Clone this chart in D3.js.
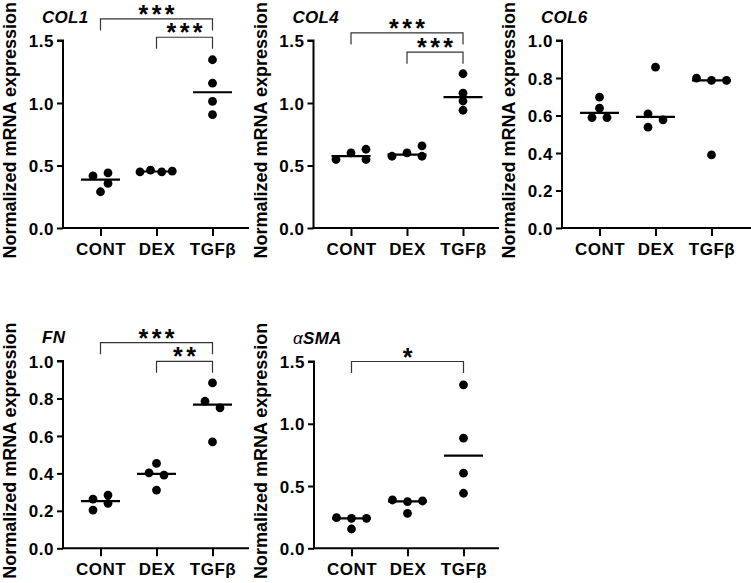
<!DOCTYPE html>
<html><head><meta charset="utf-8">
<script src="https://cdn.jsdelivr.net/npm/d3@7"></script>
<style>
body{margin:0;background:#fff;}
text{font-family:"Liberation Sans",Arial,sans-serif;fill:#000;}
</style></head>
<body><svg id="c" width="751" height="583"></svg>
<script>
// ---- data ----
const categories = ["CONT", "DEX", "TGFβ"];
const yLabel = "Normalized mRNA expression";

const col1Values = [[0.417, 0.441, 0.357, 0.290], [0.449, 0.463, 0.449, 0.455], [1.346, 1.159, 1.013, 0.907]];
const col1Jitter = [[-1, 1, 1, 0], [-2.2, -0.8, 0.7, 2.1], [0, 0, 0, 0]];
const col1Ticks = [0, 0.5, 1.0, 1.5];
const col1Comparisons = [["CONT", "TGFβ", "***", 1.673], ["DEX", "TGFβ", "***", 1.526]];

const col4Values = [[0.548, 0.601, 0.630, 0.548], [0.574, 0.601, 0.657, 0.574], [1.234, 1.079, 1.016, 0.942]];
const col4Jitter = [[-2, 0, 2, 2], [-2, 0, 2, 2], [0, 0, 0, 0]];
const col4Ticks = [0, 0.5, 1.0, 1.5];
const col4Comparisons = [["CONT", "TGFβ", "***", 1.561], ["DEX", "TGFβ", "***", 1.407]];

const col6Values = [[0.698, 0.639, 0.589, 0.589], [0.858, 0.609, 0.577, 0.538], [0.799, 0.787, 0.787, 0.390]];
const col6Jitter = [[0, 0, -1, 1], [0, -1, 1, -1], [-2, 0, 2, 0]];
const col6Ticks = [0, 0.2, 0.4, 0.6, 0.8, 1.0];
const col6Comparisons = [];

const fnValues = [[0.263, 0.284, 0.240, 0.204], [0.453, 0.403, 0.391, 0.311], [0.883, 0.785, 0.750, 0.568]];
const fnJitter = [[-1, 1, 1, -1], [0, -1, 1, 0], [0, -1, 1, 0]];
const fnTicks = [0, 0.2, 0.4, 0.6, 0.8, 1.0];
const fnComparisons = [["CONT", "TGFβ", "***", 1.098], ["DEX", "TGFβ", "**", 0.998]];

const smaValues = [[0.246, 0.241, 0.241, 0.155], [0.388, 0.375, 0.380, 0.281], [1.313, 0.884, 0.603, 0.442]];
const smaJitter = [[-2, 0, 2, 0], [-2, 0, 2, 0], [0, 0, 0, 0]];
const smaTicks = [0, 0.5, 1.0, 1.5];
const smaComparisons = [["CONT", "TGFβ", "*", 1.5]];

// ---- layout ----
const panels = [
  {title: [["COL1", "bold"]], values: col1Values, jitter: col1Jitter, ticks: col1Ticks, comps: col1Comparisons, left: 63, right: 249, top: 40.5, bottom: 228},
  {title: [["COL4", "bold"]], values: col4Values, jitter: col4Jitter, ticks: col4Ticks, comps: col4Comparisons, left: 313.5, right: 499, top: 40.5, bottom: 228},
  {title: [["COL6", "bold"]], values: col6Values, jitter: col6Jitter, ticks: col6Ticks, comps: col6Comparisons, left: 562, right: 751, top: 40.5, bottom: 228},
  {title: [["FN", "bold"]], values: fnValues, jitter: fnJitter, ticks: fnTicks, comps: fnComparisons, left: 63, right: 249, top: 361, bottom: 548.3},
  {title: [["α", "normal"], ["SMA", "bold"]], values: smaValues, jitter: smaJitter, ticks: smaTicks, comps: smaComparisons, left: 314, right: 499, top: 361.5, bottom: 548.3}
];
const jitterUnit = 7.5;

const svg = d3.select("#c");

panels.forEach(p => {
  const g = svg.append("g");
  const y = d3.scaleLinear().domain([0, d3.max(p.ticks)]).range([p.bottom, p.top]);
  const x = d3.scalePoint().domain(categories).range([p.left + 37.5, p.left + 149.5]);

  // y axis
  const ya = g.append("g").attr("transform", `translate(${p.left},0)`)
    .call(d3.axisLeft(y).tickValues(p.ticks).tickFormat(d3.format(".1f")).tickSize(6).tickPadding(3));
  ya.select(".domain").attr("d", `M-6,${p.top}H0V${p.bottom}`).attr("stroke-width", 2).attr("stroke", "#000");
  ya.selectAll(".tick line").attr("stroke-width", 2).attr("stroke", "#000");
  ya.selectAll(".tick text").attr("font-size", 17).attr("font-weight", "bold").attr("letter-spacing", 0.5).attr("dy", "0.36em").attr("x", -9);

  // x axis
  const xa = g.append("g").attr("transform", `translate(0,${p.bottom})`)
    .call(d3.axisBottom(x).tickSize(8).tickPadding(8));
  xa.select(".domain").attr("d", `M${p.left - 1},0H${p.right}`).attr("stroke-width", 2).attr("stroke", "#000");
  xa.selectAll(".tick line").attr("stroke-width", 2).attr("stroke", "#000");
  xa.selectAll(".tick text").attr("font-size", 17).attr("font-weight", "bold").attr("letter-spacing", 0.5).attr("dy", "0.71em").attr("y", 15);

  // y label
  g.append("text")
    .attr("transform", `translate(${p.left - 47},${(p.top + p.bottom) / 2 - 4}) rotate(-90)`)
    .attr("text-anchor", "middle").attr("font-size", 18).attr("font-weight", "bold")
    .text(yLabel);

  // title
  const t = g.append("text").attr("x", p.left - 21).attr("y", p.top - 18)
    .attr("font-size", 17).attr("font-style", "italic").attr("letter-spacing", 0.3);
  p.title.forEach(([s, w]) => t.append("tspan").attr("font-weight", w).text(s));

  // points
  categories.forEach((c, i) => {
    const vals = p.values[i];
    g.selectAll(null).data(vals).enter().append("circle")
      .attr("cx", (d, j) => x(c) + p.jitter[i][j] * jitterUnit)
      .attr("cy", d => y(d)).attr("r", 4.4).attr("fill", "#000");
    const med = d3.median(vals);
    g.append("line").attr("x1", x(c) - 19.5).attr("x2", x(c) + 19.5)
      .attr("y1", y(med)).attr("y2", y(med)).attr("stroke", "#000").attr("stroke-width", 2.2);
  });

  // significance brackets
  p.comps.forEach(([a, b, lab, lvl]) => {
    const yy = y(lvl);
    g.append("path").attr("d", `M${x(a)},${yy + 11.5}V${yy}H${x(b)}V${yy + 11.5}`)
      .attr("fill", "none").attr("stroke", "#333").attr("stroke-width", 1.2);
    g.append("text").attr("x", (x(a) + x(b)) / 2 + 1.75).attr("y", yy + 4)
      .attr("text-anchor", "middle").attr("font-size", 25).attr("font-weight", "bold").attr("letter-spacing", 3.5)
      .text(lab);
  });
});
</script></body></html>
